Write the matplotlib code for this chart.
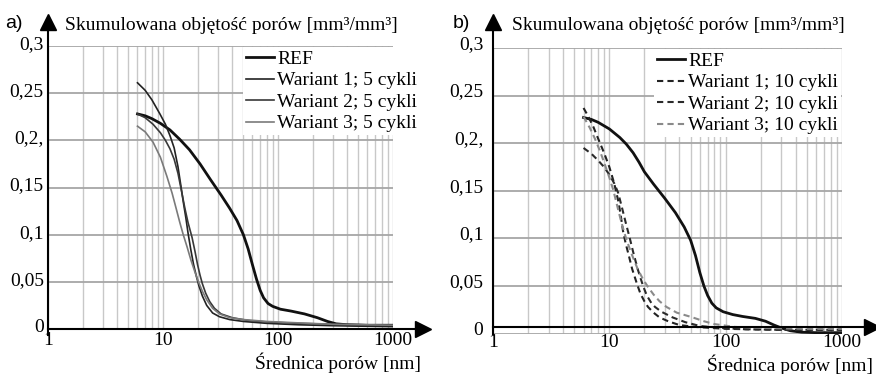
import matplotlib
matplotlib.use('Agg')
import matplotlib.pyplot as plt
import matplotlib.transforms as mtrans
from matplotlib.ticker import FixedLocator, NullFormatter

# panel a) - 5 cykli
ref_a_x = [6, 7, 8, 9.5, 11.5, 14, 17, 21, 26, 32, 38, 44, 50, 55, 60, 65, 70, 75, 82, 90, 105, 130, 170, 220,
           270, 320, 400, 600, 1000]
ref_a_y = [0.228, 0.226, 0.223, 0.218, 0.211, 0.201, 0.190, 0.175, 0.158, 0.142, 0.128, 0.115, 0.100, 0.085, 0.068,
           0.053, 0.041, 0.033, 0.027, 0.024, 0.021, 0.019, 0.016, 0.012, 0.008, 0.0055, 0.0045, 0.004, 0.004]
w1_a_x = [6, 7, 8, 9.4, 10.5, 11.5, 12.5, 13.5, 14.3, 15.0, 15.8, 16.5, 17.4, 18.4, 19.5, 20.5, 22, 24, 27, 31, 38,
          50, 80, 150, 300, 1000]
w1_a_y = [0.261, 0.253, 0.243, 0.228, 0.217, 0.205, 0.192, 0.172, 0.152, 0.135, 0.118, 0.102, 0.085, 0.069, 0.056,
          0.046, 0.035, 0.025, 0.017, 0.013, 0.010, 0.008, 0.006, 0.0045, 0.0035, 0.0025]
w2_a_x = [6, 7, 8.2, 9.5, 10.5, 11.5, 12.5, 13.5, 14.5, 15.5, 16.5, 17.9, 19, 20, 21, 22, 23.5, 25.5, 28, 32, 40,
          55, 80, 150, 300, 1000]
w2_a_y = [0.228, 0.224, 0.217, 0.208, 0.200, 0.191, 0.180, 0.165, 0.146, 0.128, 0.113, 0.097, 0.082, 0.068, 0.057,
          0.048, 0.038, 0.029, 0.022, 0.016, 0.012, 0.009, 0.0075, 0.006, 0.005, 0.004]
w3_a_x = [6, 7, 8.2, 9.5, 10.8, 12, 13, 14, 15, 16.2, 17.5, 19, 20.5, 22, 24, 27, 31, 38, 50, 80, 150, 300, 1000]
w3_a_y = [0.215, 0.209, 0.198, 0.182, 0.162, 0.144, 0.128, 0.113, 0.100, 0.087, 0.073, 0.060, 0.049, 0.040, 0.031,
          0.022, 0.016, 0.012, 0.010, 0.008, 0.0065, 0.005, 0.004]

# panel b) - 10 cykli
ref_b_x = [6, 7, 8, 10, 12.3, 14, 16, 18, 20, 24, 30, 37, 44, 50, 55, 60, 65, 70, 76, 83, 95, 115, 140, 180, 220,
           260, 300, 360, 450, 600, 1000]
ref_b_y = [0.227, 0.225, 0.222, 0.215, 0.206, 0.199, 0.190, 0.180, 0.170, 0.157, 0.142, 0.127, 0.112, 0.098, 0.082,
           0.064, 0.050, 0.040, 0.032, 0.027, 0.023, 0.020, 0.018, 0.016, 0.013, 0.009, 0.006, 0.003, 0.0015, 0.001,
           0.001]
w1_b_x = [6, 6.6, 7.3, 8, 9, 10, 11, 12, 12.6, 13.1, 13.8, 14.7, 15.7, 17.3, 18.5, 20, 21.5, 24, 27, 32, 40, 55,
          100, 300, 1000]
w1_b_y = [0.237, 0.228, 0.217, 0.205, 0.190, 0.175, 0.158, 0.138, 0.122, 0.108, 0.095, 0.082, 0.068, 0.052, 0.042,
          0.034, 0.028, 0.022, 0.017, 0.013, 0.009, 0.007, 0.005, 0.004, 0.004]
w2_b_x = [6, 7, 8, 9, 10, 11, 11.9, 12.8, 13.8, 15, 16, 17.5, 19.5, 21, 23, 24.7, 28, 35, 45, 60, 90, 150, 300, 1000]
w2_b_y = [0.195, 0.189, 0.182, 0.175, 0.167, 0.158, 0.148, 0.133, 0.117, 0.100, 0.086, 0.068, 0.050, 0.040, 0.032,
          0.028, 0.023, 0.017, 0.012, 0.008, 0.006, 0.0045, 0.004, 0.004]
w3_b_x = [6, 6.8, 7.5, 8.3, 9, 10, 10.8, 11.7, 12.5, 13.3, 14.1, 15.5, 17.5, 19.5, 21.5, 24, 27, 31, 38, 52, 65, 80,
          120, 200, 500, 1000]
w3_b_y = [0.228, 0.216, 0.205, 0.192, 0.180, 0.164, 0.151, 0.134, 0.120, 0.108, 0.098, 0.084, 0.068, 0.057, 0.049,
          0.041, 0.034, 0.028, 0.022, 0.017, 0.013, 0.010, 0.007, 0.006, 0.005, 0.005]

y_ticks = [0, 0.05, 0.1, 0.15, 0.2, 0.25, 0.3]
y_labels = ['0', '0,05', '0,1', '0,15', '0,2,', '0,25', '0,3']
x_ticks = [1, 10, 100, 1000]
x_labels = ['1', '10', '100', '1000']

serif = ['Liberation Serif', 'DejaVu Serif']
plt.rcParams['font.family'] = serif
plt.rcParams['font.size'] = 14

fig = plt.figure(figsize=(8.76, 3.74), dpi=100)
ax_a = fig.add_axes([0.0548, 0.1203, 0.3938, 0.7567])
ax_b = fig.add_axes([0.5628, 0.1080, 0.3984, 0.7636])


def setup(ax, xpad, ypad, yshift):
    ax.set_xscale('log')
    ax.set_xlim(1, 1000)
    ax.set_ylim(0, 0.3)
    minor = [m * 10 ** e for e in range(0, 3) for m in range(2, 10)]
    ax.xaxis.set_minor_locator(FixedLocator(minor))
    ax.xaxis.set_minor_formatter(NullFormatter())
    ax.set_xticks(x_ticks)
    ax.set_xticklabels(x_labels)
    ax.set_yticks(y_ticks)
    ax.set_yticklabels(y_labels)
    ax.tick_params(axis='both', which='both', length=0)
    ax.tick_params(axis='x', pad=xpad)
    ax.tick_params(axis='y', pad=ypad)
    off = mtrans.ScaledTranslation(0, yshift / 72, fig.dpi_scale_trans)
    for lab in ax.get_yticklabels():
        lab.set_transform(lab.get_transform() + off)
    for s in ax.spines.values():
        s.set_visible(False)
    ax.grid(True, axis='x', which='both', color='#c8c8c8', lw=1.0)
    ax.grid(True, axis='y', which='major', color='#a6a6a6', lw=1.3)
    ax.set_axisbelow(True)


setup(ax_a, 2.5, 3, 2.5)
setup(ax_b, 0, 7, 4)

ax_a.plot(ref_a_x, ref_a_y, color='#111111', lw=2.0, label='REF')
ax_a.plot(w1_a_x, w1_a_y, color='#222222', lw=1.2, label='Wariant 1; 5 cykli')
ax_a.plot(w2_a_x, w2_a_y, color='#383838', lw=1.2, label='Wariant 2; 5 cykli')
ax_a.plot(w3_a_x, w3_a_y, color='#7a7a7a', lw=1.2, label='Wariant 3; 5 cykli')

ax_b.plot(ref_b_x, ref_b_y, color='#111111', lw=2.0, label='REF')
ax_b.plot(w1_b_x, w1_b_y, color='#222222', lw=1.5, ls=(0, (3, 2)), label='Wariant 1; 10 cykli')
ax_b.plot(w2_b_x, w2_b_y, color='#2a2a2a', lw=1.5, ls=(0, (3, 2)), label='Wariant 2; 10 cykli')
ax_b.plot(w3_b_x, w3_b_y, color='#8a8a8a', lw=1.5, ls=(0, (3, 2)), label='Wariant 3; 10 cykli')

for ax, anchor in ((ax_a, (0.565, 0.995)), (ax_b, (0.462, 0.995))):
    leg = ax.legend(loc='upper left', bbox_to_anchor=anchor, frameon=True, fancybox=False,
                    edgecolor='none', facecolor='white', framealpha=1, borderpad=0.15,
                    labelspacing=0.2, handlelength=1.45, handletextpad=0.15, borderaxespad=0,
                    fontsize=14)
    leg.set_zorder(5)

# axis arrows
ax_a.plot([0, 0], [-0.02, 1.06], color='black', lw=1.5, transform=ax_a.transAxes, clip_on=False, zorder=6)
ax_a.plot([0], [1.085], marker='^', ms=11, color='black', transform=ax_a.transAxes, clip_on=False, zorder=6)
ax_a.plot([0, 1.065], [0, 0], color='black', lw=1.5, transform=ax_a.transAxes, clip_on=False, zorder=6)
ax_a.plot([1.087], [0], marker='>', ms=11, color='black', transform=ax_a.transAxes, clip_on=False, zorder=6)

ax_b.plot([0, 0], [0, 1.065], color='black', lw=1.5, transform=ax_b.transAxes, clip_on=False, zorder=6)
ax_b.plot([0], [1.09], marker='^', ms=11, color='black', transform=ax_b.transAxes, clip_on=False, zorder=6)
ax_b.plot([0, 1.065], [0.023, 0.023], color='black', lw=1.5, transform=ax_b.transAxes, clip_on=False, zorder=6)
ax_b.plot([1.087], [0.023], marker='>', ms=11, color='black', transform=ax_b.transAxes, clip_on=False, zorder=6)

sans = ['Liberation Sans', 'DejaVu Sans']
fig.text(0.006, 0.938, 'a)', family=sans, fontsize=14, va='center', ha='left')
fig.text(0.517, 0.938, 'b)', family=sans, fontsize=14, va='center', ha='left')
fig.text(0.0742, 0.933, 'Skumulowana objętość porów [mm³/mm³]', fontsize=14, va='center', ha='left')
fig.text(0.5845, 0.933, 'Skumulowana objętość porów [mm³/mm³]', fontsize=14, va='center', ha='left')
fig.text(0.4806, 0.029, 'Średnica porów [nm]', fontsize=14, va='center', ha='right')
fig.text(0.9966, 0.024, 'Średnica porów [nm]', fontsize=14, va='center', ha='right')

fig.savefig('out.png', dpi=100)
